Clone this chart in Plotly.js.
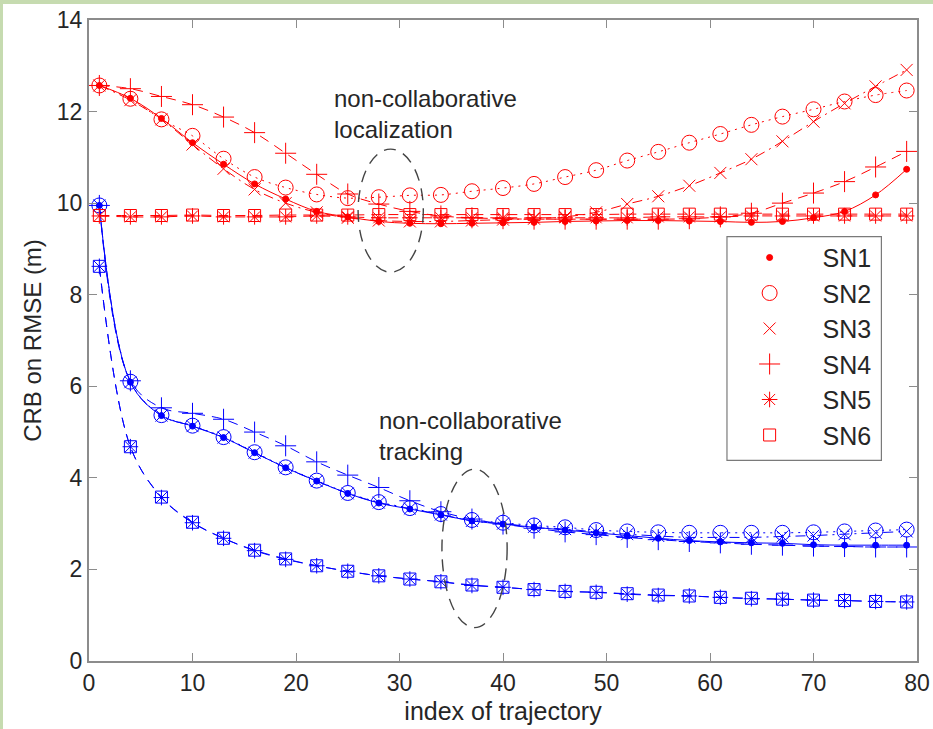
<!DOCTYPE html>
<html>
<head>
<meta charset="utf-8">
<script src="https://cdn.plot.ly/plotly-3.0.1.min.js"></script>
<style>
  html, body { margin: 0; padding: 0; background: #c6dbb0; width: 933px; height: 729px; overflow: hidden; }
  #chart { position: absolute; left: 3px; top: 4px; width: 930px; height: 725px; background: #ffffff; }
</style>
</head>
<body>
<div id="chart"></div>
<script>
// trajectory indices (markers every 3 steps)
const trajIndex = [1,4,7,10,13,16,19,22,25,28,31,34,37,40,43,46,49,52,55,58,61,64,67,70,73,76,79];

// non-collaborative localization (red)
const locSN1 = [12.57,12.29,11.85,11.32,10.85,10.42,10.09,9.82,9.70,9.60,9.56,9.55,9.56,9.57,9.58,9.60,9.61,9.62,9.62,9.61,9.60,9.58,9.60,9.68,9.82,10.18,10.74];
const locSN2 = [12.57,12.28,11.83,11.47,10.97,10.57,10.34,10.19,10.11,10.13,10.17,10.18,10.26,10.33,10.42,10.57,10.72,10.93,11.12,11.32,11.51,11.71,11.89,12.05,12.22,12.36,12.46];
const locSN3 = [12.57,12.25,11.83,11.28,10.75,10.30,10.00,9.80,9.68,9.62,9.60,9.60,9.62,9.64,9.66,9.70,9.80,9.98,10.15,10.38,10.66,10.96,11.35,11.78,12.18,12.55,12.91];
const locSN4 = [12.57,12.50,12.33,12.15,11.88,11.54,11.09,10.63,10.20,9.98,9.82,9.72,9.68,9.66,9.65,9.65,9.65,9.65,9.65,9.66,9.70,9.78,10.00,10.22,10.47,10.79,11.13];
const locSN5 = [9.72,9.70,9.70,9.72,9.70,9.70,9.70,9.72,9.70,9.68,9.68,9.68,9.68,9.68,9.68,9.68,9.68,9.68,9.70,9.70,9.70,9.72,9.72,9.72,9.72,9.72,9.72];
const locSN6 = [9.73,9.73,9.73,9.74,9.73,9.73,9.74,9.74,9.74,9.75,9.75,9.75,9.75,9.75,9.75,9.75,9.75,9.76,9.76,9.76,9.76,9.76,9.76,9.76,9.76,9.76,9.76];

// non-collaborative tracking (blue)
const trkSN1 = [9.95,6.09,5.36,5.13,4.88,4.55,4.22,3.93,3.66,3.45,3.32,3.19,3.06,2.99,2.92,2.86,2.80,2.74,2.68,2.63,2.60,2.58,2.57,2.54,2.53,2.53,2.53];
const trkSN2 = [9.95,6.10,5.37,5.14,4.89,4.56,4.23,3.94,3.67,3.47,3.34,3.21,3.08,3.02,2.96,2.92,2.86,2.83,2.81,2.80,2.80,2.80,2.80,2.81,2.83,2.85,2.87];
const trkSN3 = [9.95,6.09,5.36,5.13,4.88,4.55,4.22,3.93,3.66,3.46,3.33,3.20,3.06,3.00,2.93,2.88,2.82,2.77,2.73,2.70,2.70,2.70,2.72,2.74,2.77,2.80,2.83];
const trkSN4 = [9.95,6.12,5.53,5.41,5.28,5.00,4.70,4.35,4.06,3.79,3.50,3.26,3.10,2.99,2.90,2.82,2.76,2.70,2.65,2.61,2.58,2.55,2.53,2.51,2.50,2.49,2.49];
const trkSN5 = [8.62,4.68,3.57,3.02,2.68,2.41,2.22,2.08,1.96,1.86,1.79,1.73,1.65,1.61,1.56,1.52,1.50,1.46,1.43,1.42,1.39,1.36,1.35,1.33,1.32,1.30,1.29];
const trkSN6 = [8.62,4.68,3.58,3.03,2.68,2.42,2.23,2.08,1.96,1.86,1.79,1.73,1.66,1.61,1.56,1.52,1.50,1.47,1.44,1.42,1.39,1.37,1.35,1.33,1.32,1.30,1.29];

const seriesNames = ['SN1','SN2','SN3','SN4','SN5','SN6'];
const locSeries = [locSN1, locSN2, locSN3, locSN4, locSN5, locSN6];
const trkSeries = [trkSN1, trkSN2, trkSN3, trkSN4, trkSN5, trkSN6];

const xTicks = [0,10,20,30,40,50,60,70,80];
const yTicks = [0,2,4,6,8,10,12,14];

// styles (MATLAB-like)
const symbols = ['circle','circle-open','x-thin','cross-thin','asterisk','square-open'];
const symSizes = [6,15,12,15,13,12];
const dashes = ['solid','2px,5px','10px,5px,2px,5px','10px,7px','10px,7px','10px,7px'];

const RED = '#ff0000', BLUE = '#0000ff';
const traces = [];

function addSet(series, color, withLegend) {
  series.forEach((ys, i) => {
    traces.push({
      x: trajIndex, y: ys, type: 'scatter', mode: 'lines',
      line: {color: color, width: 1, dash: dashes[i], shape: 'spline', smoothing: 1},
      showlegend: false, hoverinfo: 'skip'
    });
    traces.push({
      x: trajIndex, y: ys, type: 'scatter', mode: 'markers',
      name: seriesNames[i],
      marker: {symbol: symbols[i], size: symSizes[i], color: color, line: {color: color, width: 1}},
      showlegend: withLegend
    });
  });
}
addSet(trkSeries, BLUE, false);
addSet(locSeries, RED, true);

const FONT = 'Liberation Sans, Arial, Helvetica, sans-serif';
const TXT = '#262626';
const AX = '#8c8c8c';

const layout = {
  width: 930, height: 725,
  margin: {l: 86, r: 16, t: 16, b: 68},
  paper_bgcolor: '#ffffff', plot_bgcolor: '#ffffff',
  font: {family: FONT, color: TXT, size: 23},
  showlegend: true,
  legend: {
    x: 0.758, xanchor: 'left', y: 0.665, yanchor: 'top',
    bgcolor: 'rgba(0,0,0,0)', borderwidth: 0,
    font: {family: FONT, size: 25, color: TXT},
    itemwidth: 96
  },
  xaxis: {
    range: [0, 80], tickvals: xTicks, ticktext: xTicks.map(String),
    ticks: 'inside', ticklen: 8, tickcolor: AX, tickwidth: 1,
    showline: true, linecolor: AX, linewidth: 2, mirror: 'ticks',
    showgrid: false, zeroline: false,
    tickfont: {family: FONT, size: 23, color: TXT},
    title: {text: 'index of trajectory', font: {family: FONT, size: 25, color: TXT}, standoff: 8}
  },
  yaxis: {
    range: [0, 14], tickvals: yTicks, ticktext: yTicks.map(String),
    ticks: 'inside', ticklen: 8, tickcolor: AX, tickwidth: 1,
    showline: true, linecolor: AX, linewidth: 2, mirror: 'ticks',
    showgrid: false, zeroline: false,
    tickfont: {family: FONT, size: 23, color: TXT},
    title: {text: 'CRB on RMSE (m)', font: {family: FONT, size: 24, color: TXT}, standoff: 8}
  },
  shapes: [
    {type: 'rect', xref: 'paper', yref: 'paper', x0: 0.7705, x1: 0.957, y0: 0.313, y1: 0.662,
     line: {color: '#7a7a7a', width: 1.2}, fillcolor: '#ffffff', layer: 'below'},
    {type: 'circle', xref: 'x', yref: 'y', x0: 26.0, x1: 32.3, y0: 8.49, y1: 11.18,
     line: {color: '#444444', width: 1.4, dash: '12px,8px'}},
    {type: 'circle', xref: 'x', yref: 'y', x0: 34.1, x1: 40.4, y0: 0.73, y1: 4.19,
     line: {color: '#444444', width: 1.4, dash: '12px,8px'}}
  ],
  annotations: [
    {x: 23.45, y: 12.62, xref: 'x', yref: 'y', xanchor: 'left', yanchor: 'top', align: 'left',
     text: 'non-collaborative<br>localization', showarrow: false,
     font: {family: FONT, size: 24, color: TXT}},
    {x: 27.8, y: 5.6, xref: 'x', yref: 'y', xanchor: 'left', yanchor: 'top', align: 'left',
     text: 'non-collaborative<br>tracking', showarrow: false,
     font: {family: FONT, size: 24, color: TXT}}
  ]
};

Plotly.newPlot('chart', traces, layout, {displayModeBar: false, staticPlot: true});
</script>
</body>
</html>
